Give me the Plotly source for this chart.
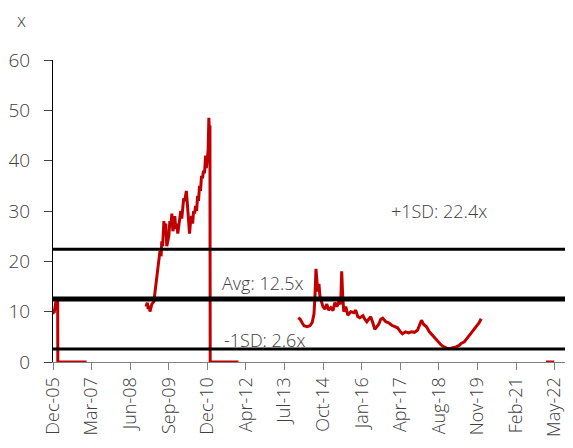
import plotly.graph_objects as go

# ---- data ----
dates = [
    # segment 1
    "2005-12-01", "2005-12-08", "2005-12-15", "2005-12-22", "2005-12-29", "2006-01-05",
    "2006-01-12", "2006-01-19", "2006-01-26", "2006-01-28", "2006-06-01", "2007-01-08",
    None,
    # segment 2
    "2008-12-21", "2009-01-05", "2009-01-15", "2009-01-28", "2009-02-06", "2009-02-18",
    "2009-03-01", "2009-03-25", "2009-04-18",
    "2009-05-11", "2009-06-06", "2009-06-20", "2009-06-28", "2009-07-08", "2009-07-15",
    "2009-07-24", "2009-08-03", "2009-08-15", "2009-08-27", "2009-09-08",
    "2009-09-21", "2009-10-03", "2009-10-15", "2009-10-27", "2009-11-08", "2009-11-20",
    "2009-12-01", "2009-12-13", "2009-12-25", "2010-01-06", "2010-01-18", "2010-01-30",
    "2010-02-11", "2010-02-23", "2010-03-06", "2010-03-18", "2010-03-30", "2010-04-10",
    "2010-04-19", "2010-05-03", "2010-05-15", "2010-05-27", "2010-06-09",
    "2010-06-21", "2010-07-03", "2010-07-15", "2010-07-27", "2010-08-08", "2010-08-20",
    "2010-09-01", "2010-09-12", "2010-09-24", "2010-10-06", "2010-10-18", "2010-10-30",
    "2010-11-11", "2010-11-23", "2010-12-06", "2010-12-15", "2010-12-24", "2011-01-05",
    "2011-01-14", "2011-01-20", "2011-01-27",
    "2011-01-30", "2011-06-01", "2012-01-04",
    None,
    # segment 3
    "2013-12-21", "2014-01-14", "2014-02-06", "2014-03-01", "2014-04-06", "2014-05-11",
    "2014-06-06", "2014-06-28", "2014-07-10", "2014-07-22", "2014-08-03", "2014-08-15",
    "2014-08-27", "2014-09-08", "2014-09-26", "2014-10-14", "2014-11-07", "2014-11-29",
    "2014-12-23", "2015-01-17", "2015-02-11", "2015-03-06", "2015-03-30", "2015-04-22",
    "2015-05-15", "2015-05-27", "2015-06-08", "2015-06-21", "2015-07-15", "2015-08-08",
    "2015-09-13", "2015-10-18", "2015-11-11", "2015-12-06", "2015-12-30", "2016-02-06",
    "2016-02-28", "2016-03-23", "2016-04-15", "2016-05-09", "2016-06-03", "2016-06-27",
    "2016-07-21", "2016-08-13", "2016-09-06", "2016-09-30", "2016-11-06", "2016-12-11",
    "2017-01-16", "2017-02-20", "2017-03-27", "2017-05-01", "2017-05-25", "2017-07-01",
    "2017-08-06", "2017-09-11", "2017-10-16", "2017-11-21", "2017-12-15", "2018-01-08",
    "2018-02-01", "2018-03-09", "2018-04-13", "2018-05-18", "2018-06-22", "2018-07-28",
    "2018-09-01", "2018-10-06", "2018-11-11", "2018-12-16", "2019-01-21", "2019-02-25",
    "2019-04-06", "2019-04-29", "2019-06-06", "2019-07-09", "2019-08-15", "2019-09-21",
    "2019-10-28", "2019-12-01", "2019-12-25",
    None,
    # segment 4
    "2022-02-10", "2022-05-20",
]

pe_values = [
    # segment 1
    9.5, 10.5, 9.8, 11.0, 11.5, 12.0,
    11.6, 12.3, 12.0, 0, 0, 0,
    None,
    # segment 2
    11.0, 11.8, 10.5, 11.2, 10.0, 11.0,
    11.5, 12.0, 15.0,
    19.0, 22.0, 21.0, 24.0, 23.0, 27.5,
    28.0, 26.0, 27.5, 23.0, 24.5,
    25.0, 28.0, 27.0, 29.5, 26.0, 27.0,
    29.0, 26.5, 27.5, 25.5, 27.0, 29.0,
    30.0, 28.5, 31.0, 32.5, 32.0, 33.0,
    34.0, 31.0, 28.0, 25.5, 28.0,
    29.0, 27.5, 30.0, 29.5, 31.0, 30.0,
    33.0, 32.0, 35.0, 34.0, 37.0, 36.5,
    38.0, 37.5, 41.0, 38.5, 40.0, 42.0,
    48.5, 46.0, 47.0,
    0, 0, 0,
    None,
    # segment 3
    8.8, 8.5, 7.8, 7.2, 7.0, 7.2,
    7.8, 9.5, 13.0, 18.5, 16.0, 14.0,
    15.5, 13.0, 12.0, 11.0, 10.5, 11.5,
    10.3, 10.8, 10.2, 11.8, 11.0, 12.0,
    11.5, 18.0, 13.0, 10.0, 11.0, 9.3,
    10.0, 9.8, 10.3, 9.0, 8.8, 9.2,
    8.5, 8.0, 8.5, 9.0, 7.8, 6.5,
    7.0, 7.5, 8.5, 8.7, 8.0, 7.8,
    7.3, 7.0, 6.8, 6.0, 5.6, 6.0,
    5.8, 6.0, 5.9, 6.3, 7.2, 8.3,
    7.5, 7.0, 6.0, 5.3, 4.8, 4.0,
    3.4, 3.0, 2.7, 2.7, 2.8, 3.0,
    3.3, 3.7, 4.0, 4.7, 5.5, 6.3,
    7.2, 7.8, 8.6,
    None,
    # segment 4
    0, 0,
]

avg_value = 12.5
plus_sd_value = 22.4
minus_sd_value = 2.6

tick_dates = ["2005-12-01", "2007-03-09", "2008-06-14", "2009-09-20", "2010-12-27",
              "2012-04-03", "2013-07-10", "2014-10-16", "2016-01-22", "2017-04-29",
              "2018-08-04", "2019-11-11", "2021-02-16", "2022-05-25"]
tick_labels = ["Dec-05", "Mar-07", "Jun-08", "Sep-09", "Dec-10", "Apr-12", "Jul-13",
               "Oct-14", "Jan-16", "Apr-17", "Aug-18", "Nov-19", "Feb-21", "May-22"]

x_range = ["2005-12-01", "2022-12-31"]

# ---- figure ----
FONT = "Open Sans"
TXT = "#404040"

fig = go.Figure()
fig.add_trace(go.Scatter(
    x=dates, y=pe_values, mode="lines", connectgaps=False, cliponaxis=False,
    line=dict(color="#C00000", width=3), showlegend=False, hoverinfo="skip",
))

for val, w in [(plus_sd_value, 3), (avg_value, 5), (minus_sd_value, 3)]:
    fig.add_shape(type="line", xref="paper", x0=0, x1=1, yref="y", y0=val, y1=val,
                  line=dict(color="black", width=w), layer="above")

ann_font = dict(family=FONT, size=18, color=TXT, weight=300)
fig.add_annotation(x="2018-08-12", y=30.0, text=f"+1SD: {plus_sd_value}x", showarrow=False,
                   font=ann_font, xanchor="center", yanchor="middle")
fig.add_annotation(x="2012-10-22", y=15.7, text=f"Avg: {avg_value}x", showarrow=False,
                   font=ann_font, xanchor="center", yanchor="middle")
fig.add_annotation(x="2012-11-10", y=4.4, text=f"-1SD: {minus_sd_value}x", showarrow=False,
                   font=ann_font, xanchor="center", yanchor="middle")
fig.add_annotation(xref="paper", yref="paper", x=-0.06, y=1.132, text="x", showarrow=False,
                   font=ann_font, xanchor="center", yanchor="middle")

# page body has an 8px margin, so the figure is sized/offset to compensate
fig.update_layout(
    width=565, height=440,
    margin=dict(l=45, r=0, t=52, b=86, autoexpand=False),
    plot_bgcolor="white", paper_bgcolor="white",
    font=dict(family=FONT, color=TXT),
    xaxis=dict(
        type="date", range=x_range, tickmode="array", tickvals=tick_dates, ticktext=tick_labels,
        tickangle=-90, ticks="outside", ticklen=7, tickcolor="#808080", tickwidth=1,
        showline=True, linecolor="#808080", linewidth=1, showgrid=False, zeroline=False,
        tickfont=dict(family=FONT, size=18, color=TXT, weight=300), layer="below traces",
    ),
    yaxis=dict(
        range=[0, 60], tickmode="array", tickvals=[0, 10, 20, 30, 40, 50, 60],
        ticks="outside", ticklen=8, tickcolor="#404040", tickwidth=1,
        showline=True, linecolor="black", linewidth=1, showgrid=False, zeroline=False,
        tickfont=dict(family=FONT, size=19, color=TXT, weight=300), ticklabelstandoff=10,
        layer="below traces",
    ),
)

fig.write_html("out.html")
